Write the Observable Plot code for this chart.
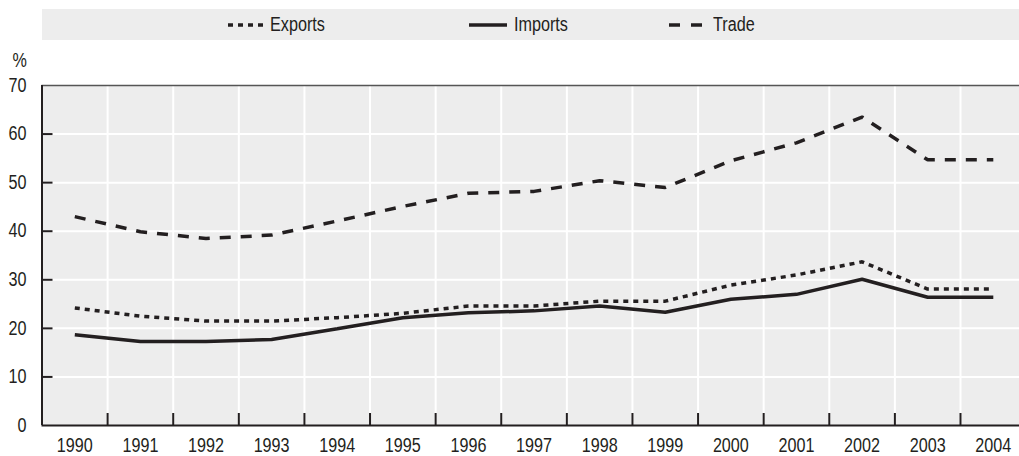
<!DOCTYPE html>
<html><head><meta charset="utf-8">
<script src="https://cdn.jsdelivr.net/npm/d3@7"></script>
<script src="https://cdn.jsdelivr.net/npm/@observablehq/plot@0.6"></script>
<style>
html,body{margin:0;padding:0;background:#fff;overflow:hidden;}
#wrap{position:relative;width:1019px;height:456px;font-family:"Liberation Sans",Arial,sans-serif;color:#231f20;}
#legend{position:absolute;left:42px;top:9px;width:977px;height:31px;background:#ededed;}
.item{position:absolute;top:0;height:31px;display:flex;align-items:center;font-size:19.5px;white-space:nowrap;}
.item svg{display:block;}
.item span{display:inline-block;transform:scaleX(0.83);transform-origin:left center;}
#chart{position:absolute;left:0;top:40px;}
</style></head>
<body><div id="wrap"><div id="legend"></div><div id="chart"></div></div>
<script>
const years = [1990,1991,1992,1993,1994,1995,1996,1997,1998,1999,2000,2001,2002,2003,2004];
const exportsPct = [24.2,22.5,21.5,21.5,22.2,23.1,24.6,24.6,25.6,25.6,28.9,31.0,33.7,28.1,28.1];
const importsPct = [18.7,17.3,17.3,17.7,19.9,22.2,23.2,23.6,24.6,23.3,26.0,27.0,30.1,26.4,26.4];
const tradePct   = [43.0,39.9,38.5,39.2,42.1,45.1,47.8,48.2,50.4,49.0,54.5,58.2,63.5,54.7,54.7];
const seriesNames = ["Exports","Imports","Trade"];
const yTicks = [0,10,20,30,40,50,60,70];
const yUnit = "%";

const ink = "#231f20";
const dashes = {Exports: "5,5", Imports: null, Trade: "11,10"};
const legendDashes = {Exports: "5,5", Imports: null, Trade: "11,11"};
const seriesValues = {Exports: exportsPct, Imports: importsPct, Trade: tradePct};

// Legend
const legendPos = {Exports: [186, 35], Imports: [427, 38], Trade: [627, 33]};
const legendGap = {Exports: 7, Imports: 7, Trade: 11};
const legend = document.getElementById("legend");
for (const name of seriesNames) {
  const [left, w] = legendPos[name];
  const item = document.createElement("div");
  item.className = "item";
  item.style.left = left + "px";
  const dash = legendDashes[name];
  item.innerHTML = `<svg width="${w}" height="8"><line x1="0" x2="${w}" y1="4" y2="4" stroke="${ink}" stroke-width="3.5" ${dash ? `stroke-dasharray="${dash}"` : ""}/></svg><span style="margin-left:${legendGap[name]}px">${name}</span>`;
  legend.appendChild(item);
}

const rows = [];
for (const name of seriesNames) {
  years.forEach((yr, i) => rows.push({year: yr, series: name, value: seriesValues[name][i]}));
}
const boundaries = years.slice(1).map(y => y - 0.5);
const inner = yTicks.slice(1, -1);

const chart = Plot.plot({
  width: 1019,
  height: 416,
  marginTop: 45,
  marginBottom: 31,
  marginLeft: 41.5,
  marginRight: 0,
  x: {type: "linear", domain: [years[0] - 0.5, years[years.length - 1] + 0.5], range: [41.5, 1025.6]},
  y: {domain: [0, 70], range: [385, 45]},
  style: {fontFamily: '"Liberation Sans",Arial,sans-serif', fontSize: "19.5px", color: ink, background: "transparent", overflow: "visible"},
  marks: [
    Plot.frame({fill: "#ededed", stroke: null}),
    Plot.gridX(boundaries, {stroke: "#fff", strokeOpacity: 1, strokeWidth: 2}),
    Plot.gridY(inner, {stroke: "#fff", strokeOpacity: 1, strokeWidth: 2}),
    Plot.axisY(inner, {tickSize: -11, tickFormat: () => "", label: null, stroke: ink, strokeWidth: 2}),
    Plot.axisY(yTicks, {tickSize: 0, tickPadding: 15.5, label: null, fill: ink}),
    Plot.axisX(boundaries, {tickSize: -12, tickFormat: () => "", label: null, stroke: ink, strokeWidth: 2}),
    Plot.axisX(years, {tickSize: 0, tickPadding: 12.5, tickFormat: d => String(d), label: null, fill: ink}),
    Plot.text([yUnit], {frameAnchor: "top-left", lineAnchor: "middle", dx: -29.5, dy: -25, textAnchor: "start", text: d => d, fill: ink}),
    Plot.ruleY([70], {stroke: "#555", strokeWidth: 1.5}),
    Plot.ruleX([years[0] - 0.5], {stroke: ink, strokeWidth: 2}),
    Plot.ruleY([0], {stroke: ink, strokeWidth: 2}),
    ...seriesNames.map(name => Plot.line(rows.filter(d => d.series === name), {
      x: "year", y: "value", stroke: ink, strokeWidth: 3.5,
      strokeDasharray: dashes[name] ?? undefined, strokeLinecap: "butt", strokeLinejoin: "miter"
    }))
  ]
});
// condense the glyphs horizontally (the reference uses a condensed face)
chart.querySelectorAll("text").forEach(t => {
  const tr = t.getAttribute("transform") || "";
  t.setAttribute("transform", (tr + " scale(0.83,1)").trim());
});
document.getElementById("chart").appendChild(chart);
</script>
</body></html>
